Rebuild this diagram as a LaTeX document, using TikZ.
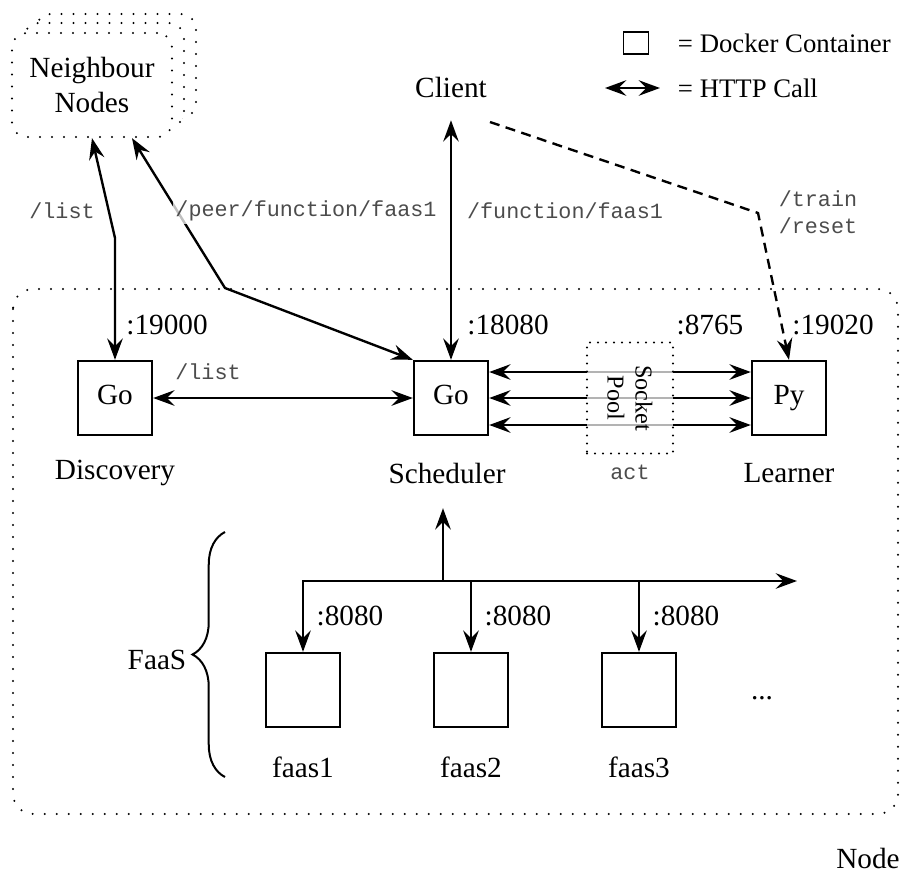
\documentclass[tikz,border=0pt]{standalone}
\usepackage{fontspec}
\setmainfont{Liberation Serif}
\setmonofont{Liberation Mono}
\usetikzlibrary{arrows.meta,decorations.pathreplacing}
\newcommand{\mainsize}{\fontsize{11.7}{14}\selectfont}
\newcommand{\legsize}{\fontsize{10.7}{13}\selectfont}
\newcommand{\urlsize}{\fontsize{8.7}{11}\selectfont}

\begin{document}
\begin{tikzpicture}[x=0.4pt,y=-0.4pt,
  container/.style={draw, line width=0.95pt, minimum size=29.6pt, inner sep=0pt,
    text height=0.7em, text depth=0.22em, font=\mainsize},
  txt/.style={font=\mainsize, inner sep=1pt},
  url/.style={font=\ttfamily\urlsize, text=black!70, inner sep=1pt},
  http/.style={line width=0.95pt, {Stealth[length=8.5pt,width=6.2pt,inset=3pt]}-{Stealth[length=8.5pt,width=6.2pt,inset=3pt]}},
  call/.style={line width=0.95pt, -{Stealth[length=8.5pt,width=6.2pt,inset=3pt]}},
  dotframe/.style={line width=0.9pt, line cap=round, dash pattern=on 0pt off 4.8pt},
  pooldots/.style={line width=0.9pt, line cap=round, dash pattern=on 0pt off 3.2pt}]
\useasboundingbox (0,0) rectangle (903,875);

% the node itself
\draw[dotframe, rounded corners=8pt] (13,289) rectangle (898,814);
\node[txt] (nodelbl) at (868,858) {Node};

% neighbour stack
\draw[dotframe, fill=white, rounded corners=6pt] (36,14) rectangle (196,118);
\draw[dotframe, fill=white, rounded corners=6pt] (24,23) rectangle (184,127);
\node[draw, dotframe, fill=white, rounded corners=6pt, minimum width=64pt, minimum height=41.6pt,
      align=center, font=\mainsize] (nbr) at (92,85) {Neighbour\\Nodes};

\node[txt] (client) at (451,87) {Client};

% legend
\node[draw, line width=0.7pt, minimum width=10pt, minimum height=8.8pt, inner sep=0pt] (legbox) at (636,43) {};
\node[txt, anchor=west, font=\legsize] (legboxtxt) at (675,43) {= Docker Container};
\node[txt, anchor=west, font=\legsize] (legcall) at (675,88) {= HTTP Call};
\draw[http] ([xshift=-28pt]legcall.west) -- ([xshift=-6pt]legcall.west);

% containers
\node[container] (disc) at (115,398) {Go};
\node[container] (sched) at (451,398) {Go};
\node[container] (learn) at (789,398) {Py};
\node[txt] (disclbl) at (115,473) {Discovery};
\node[txt] (schedlbl) at (447,473) {Scheduler};
\node[txt] (learnlbl) at (789,473) {Learner};

\node[txt] (p19000) at (167,325) {:19000};
\node[txt] (p18080) at (508,325) {:18080};
\node[txt] (p8765) at (710,325) {:8765};
\node[txt] (p19020) at (833,325) {:19020};

% outside calls
\coordinate (dbend) at (115,238);
\coordinate (pbend) at (225,288);
\coordinate (tstart) at (490,122);
\coordinate (tbend) at (758,213);
\draw[http] (nbr.south) -- (dbend) -- (disc.north);
\draw[http] ([xshift=16pt]nbr.south) -- (pbend) -- (sched.north west);
\draw[http] ([yshift=-8pt]client.south) -- (sched.north);
\draw[call, dash pattern=on 4pt off 2.6pt] (tstart) -- (tbend) -- (learn.north);

\node[url] (ulist) at (62,211) {/list};
\node[url, fill=white, fill opacity=0.75, text opacity=1] (upeer) at (306,211) {/peer/function/faas1};
\node[url] (ufunc) at (565,211) {/function/faas1};
\node[url, align=left] (utrain) at (818,212) {/train\\/reset};

% inside calls
\draw[http] (disc) -- (sched);
\node[url] (ulist2) at (208,372) {/list};
\foreach \s in {10.4,0,-10.8}
  \draw[http] ([yshift=\s pt]sched.east) -- ([yshift=\s pt]learn.west);
\node[pooldots, draw, fill=white, fill opacity=0.7, minimum width=34.4pt, minimum height=44.4pt] (pool) at (630,398) {};
\node[rotate=-90, align=center, font=\fontsize{9.7}{11.2}\selectfont, inner sep=0pt] (poollbl) at (pool.center) {Socket\\Pool};
\node[url] (uact) at (630,472) {act};

% faas containers on the bus
\node[container] (f1) at (303,690) {};
\node[container] (f2) at (471,690) {};
\node[container] (f3) at (639,690) {};
\foreach \f/\n in {f1/faas1,f2/faas2,f3/faas3}
  \node[txt] (\f lbl) at ([yshift=-30.8pt]\f.center) {\n};
\node[txt] (more) at (762,698) {...};

\coordinate (tap) at (443,581);
\coordinate (buse) at (797,581);
\draw[call] (tap) -- ([yshift=-28.8pt]sched.south -| tap);
\draw[http] (f1.north) -- (f1.north |- tap) -- (buse);
\draw[call] (f2.north |- tap) -- (f2.north);
\draw[call] (f3.north |- tap) -- (f3.north);
\foreach \f in {f1,f2,f3}
  \node[txt] at ([xshift=18.8pt,yshift=14.4pt]\f.north) {:8080};

\draw[line width=0.8pt, decorate, decoration={brace, amplitude=13pt}] (225,777) -- (225,532);
\node[txt] (faas) at (157,660) {FaaS};
\end{tikzpicture}
\end{document}
